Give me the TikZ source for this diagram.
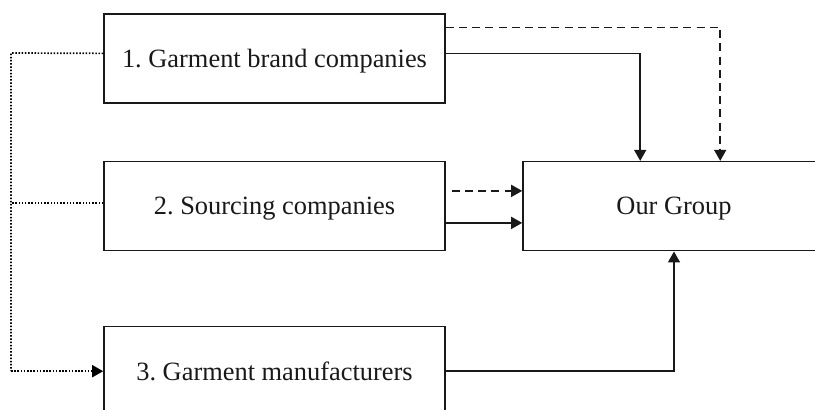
\documentclass[tikz,border=0pt]{standalone}
\usepackage{fontspec}
\setmainfont{Liberation Serif}
\usetikzlibrary{arrows.meta,calc}
\frenchspacing

\tikzset{
  box/.style={draw=black!90, line width=0.8pt, rectangle, inner sep=0pt,
    minimum width=170.5pt, minimum height=44.5pt,
    font=\fontsize{13.2pt}{15pt}\selectfont, text=black!90,
    text depth=0pt, yshift=-0.6pt},
  bigbox/.style={box, minimum width=151pt},
  link/.style={draw=black!90, line width=0.75pt,
    -{Triangle[length=5.5pt,width=6pt]}},
  solidlink/.style={link},
  dashlink/.style={link, dash pattern=on 4pt off 2.6pt},
  dotlink/.style={link, draw=black, dash pattern=on 0.75pt off 0.85pt, line width=0.85pt},
  dotline/.style={dotlink, -}
}

\begin{document}
\begin{tikzpicture}[x=0.5pt, y=-0.5pt]
  \useasboundingbox (0,0) rectangle (815,410);
  \clip (0,0) rectangle (815,410);

  % parties
  \node[box]    (b1)  at (274.5,57.5) {1. Garment brand companies};
  \node[box]    (b2)  at (274.5,205)  {2. Sourcing companies};
  \node[box]    (b3)  at (274.5,370)  {3. Garment manufacturers};
  \node[bigbox] (grp) at (674,205)    {Our Group};

  % brand companies to the group
  \draw[dashlink]  ($(b1.north east)+(0,14)$) -| ($(grp.north west)+(198,0)$);
  \draw[solidlink] ($(b1.north east)+(0,40)$) -| ($(grp.north west)+(118,0)$);

  % sourcing companies to the group
  \draw[dashlink]  ($(b2.north east)+(6,30)$) -- ($(grp.north west)+(0,30)$);
  \draw[solidlink] ($(b2.north east)+(0,62)$) -- ($(grp.north west)+(0,62)$);

  % manufacturers to the group
  \draw[solidlink] (b3.east) -| (grp.south);

  % referrals down to the manufacturers
  \coordinate (spine) at (11,53);
  \draw[dotline] ($(b1.north west)+(0,40)$) -- (spine) -- (spine |- b3.west);
  \draw[dotline] ($(b2.north west)+(0,42)$) coordinate (m2) -- (m2 -| spine);
  \draw[dotlink] (spine |- b3.west) -- (b3.west);
\end{tikzpicture}
\end{document}
